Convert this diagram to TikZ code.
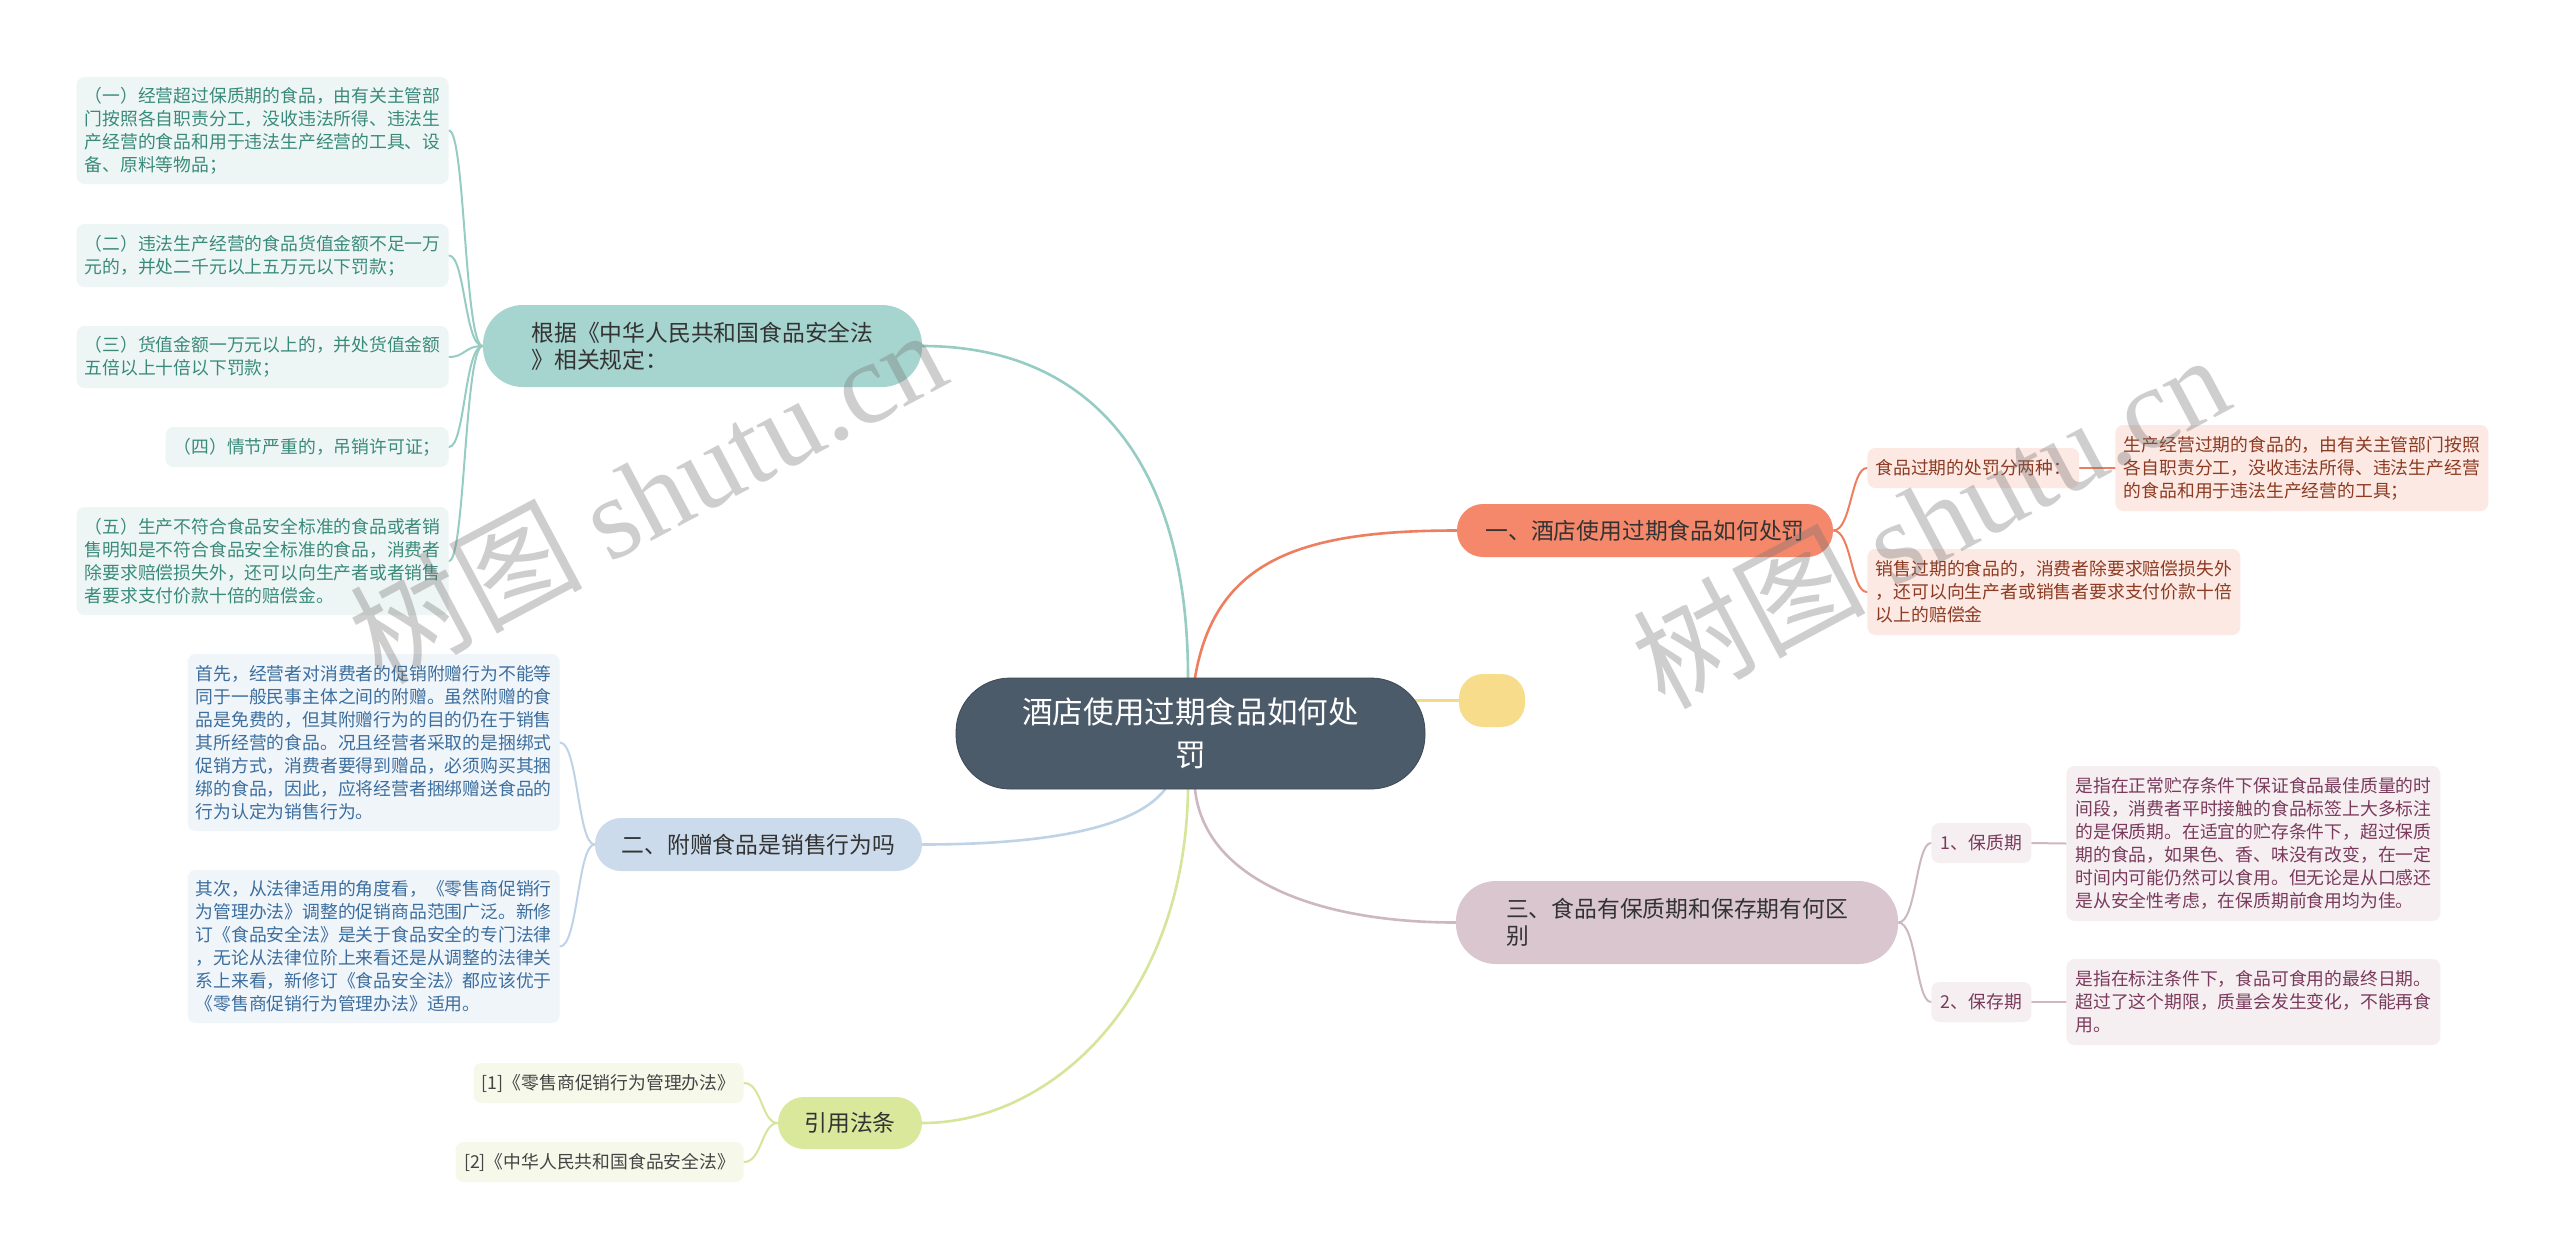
\documentclass[tikz,border=0pt]{standalone}
\usepackage{fontspec}
\setmainfont{Noto Sans CJK SC}
\newfontfamily\wmlatin{Liberation Serif}
\usetikzlibrary{backgrounds}

\definecolor{rootc}{HTML}{4B5B6A}
\definecolor{topictxt}{HTML}{333333}
\definecolor{tealc}{HTML}{A6D4CF}
\definecolor{tealleaf}{HTML}{EEF6F5}
\definecolor{tealtxt}{HTML}{3A8A7C}
\definecolor{tealln}{HTML}{96CCC3}
\definecolor{orangec}{HTML}{F5876A}
\definecolor{orangeleaf}{HTML}{FDE9E3}
\definecolor{orangetxt}{HTML}{8C3B22}
\definecolor{orangeln}{HTML}{EE7F5E}
\definecolor{bluec}{HTML}{CBDBEB}
\definecolor{blueleaf}{HTML}{F0F5FA}
\definecolor{bluetxt}{HTML}{3C6E9E}
\definecolor{blueln}{HTML}{BFD3E6}
\definecolor{greenc}{HTML}{DAE89C}
\definecolor{greenleaf}{HTML}{F6F8EA}
\definecolor{greentxt}{HTML}{444444}
\definecolor{greenln}{HTML}{D5E59A}
\definecolor{mauvec}{HTML}{D9C6CE}
\definecolor{mauveleaf}{HTML}{F6EFF2}
\definecolor{mauvetxt}{HTML}{7A3A5C}
\definecolor{mauveln}{HTML}{CDB7C1}
\definecolor{yellowc}{HTML}{F6DC8B}
\definecolor{yellowln}{HTML}{F3D98A}

\newcommand{\leaffont}{\fontsize{8.9}{11.5}\selectfont}
\newcommand{\topicfont}{\fontsize{11.4}{13.5}\selectfont}

\begin{document}
\begin{tikzpicture}[
  x=0.5pt, y=-0.5pt,
  root/.style={draw=rootc!80!black, fill=rootc, text=white, font=\fontsize{15.3}{21.5}\selectfont,
    align=center, rounded corners=27pt, minimum width=234.5pt, minimum height=55.5pt, inner sep=0pt},
  topic/.style={rounded corners=13pt, font=\topicfont, text=topictxt, align=left, inner sep=0pt,
    minimum height=26.5pt},
  leaf/.style={rounded corners=4pt, font=\leaffont, align=left, inner xsep=4pt, inner ysep=0pt,
    minimum height=20pt},
  tleaf/.style={leaf, fill=tealleaf, text=tealtxt, minimum width=186pt, anchor=east},
  bleaf/.style={leaf, fill=blueleaf, text=bluetxt, minimum width=186pt, anchor=east},
  gleaf/.style={leaf, fill=greenleaf, text=greentxt, anchor=east},
  oleaf/.style={leaf, fill=orangeleaf, text=orangetxt, anchor=west},
  mleaf/.style={leaf, fill=mauveleaf, text=mauvetxt, anchor=west},
  link/.style={line width=1.3pt, line cap=round},
  twig/.style={line width=1pt, line cap=round},
  wmark/.style={text=black!55, opacity=0.35, font=\fontsize{58}{60}\selectfont, inner sep=0pt},
]
  \useasboundingbox (0,0) rectangle (2560,1259);

  \node[root] (root) at (1190.5,733.5) {酒店使用过期食品如何处\\罚};
  \node[topic, fill=yellowc, minimum width=33pt, rounded corners=12pt] (yel) at (1492,700.5) {};

  % left side
  \node[topic, fill=tealc, minimum width=219.5pt, minimum height=41pt, rounded corners=20pt] (law) at (702.5,346)
    {根据《中华人民共和国食品安全法\\》相关规定：};
  \node[tleaf, minimum height=53.5pt] (law1) at (449,130.5)
    {（一）经营超过保质期的食品，由有关主管部\\门按照各自职责分工，没收违法所得、违法生\\产经营的食品和用于违法生产经营的工具、设\\备、原料等物品；};
  \node[tleaf, minimum height=31.5pt] (law2) at (449,255.5)
    {（二）违法生产经营的食品货值金额不足一万\\元的，并处二千元以上五万元以下罚款；};
  \node[tleaf, minimum height=31pt] (law3) at (449,357)
    {（三）货值金额一万元以上的，并处货值金额\\五倍以上十倍以下罚款；};
  \node[tleaf, minimum width=0pt] (law4) at (449,447) {（四）情节严重的，吊销许可证；};
  \node[tleaf, minimum height=54pt] (law5) at (449,561)
    {（五）生产不符合食品安全标准的食品或者销\\售明知是不符合食品安全标准的食品，消费者\\除要求赔偿损失外，还可以向生产者或者销售\\者要求支付价款十倍的赔偿金。};

  \node[topic, fill=bluec, minimum width=163.5pt] (gift) at (758.5,844.5) {二、附赠食品是销售行为吗};
  \node[bleaf, minimum height=88.5pt] (gift1) at (560,742.5)
    {首先，经营者对消费者的促销附赠行为不能等\\同于一般民事主体之间的附赠。虽然附赠的食\\品是免费的，但其附赠行为的目的仍在于销售\\其所经营的食品。况且经营者采取的是捆绑式\\促销方式，消费者要得到赠品，必须购买其捆\\绑的食品，因此，应将经营者捆绑赠送食品的\\行为认定为销售行为。};
  \node[bleaf, minimum height=76.5pt] (gift2) at (560,946.5)
    {其次，从法律适用的角度看，《零售商促销行\\为管理办法》调整的促销商品范围广泛。新修\\订《食品安全法》是关于食品安全的专门法律\\，无论从法律位阶上来看还是从调整的法律关\\系上来看，新修订《食品安全法》都应该优于\\《零售商促销行为管理办法》适用。};

  \node[topic, fill=greenc, minimum width=72pt, minimum height=26pt] (cite) at (850,1123) {引用法条};
  \node[gleaf, minimum width=135pt] (cite1) at (744,1083) {[1]《零售商促销行为管理办法》};
  \node[gleaf, minimum width=144pt] (cite2) at (744,1162) {[2]《中华人民共和国食品安全法》};

  % right side
  \node[topic, fill=orangec, minimum width=188pt] (fine) at (1645,530.5) {一、酒店使用过期食品如何处罚};
  \node[oleaf] (fine1) at (1867,468) {食品过期的处罚分两种：};
  \node[oleaf, minimum width=186.5pt, minimum height=43pt] (fine1a) at (2115,468)
    {生产经营过期的食品的，由有关主管部门按照\\各自职责分工，没收违法所得、违法生产经营\\的食品和用于违法生产经营的工具；};
  \node[oleaf, minimum width=186.5pt, minimum height=43pt] (fine2) at (1867,592)
    {销售过期的食品的，消费者除要求赔偿损失外\\，还可以向生产者或销售者要求支付价款十倍\\以上的赔偿金};

  \node[topic, fill=mauvec, minimum width=221pt, minimum height=41.5pt, rounded corners=20pt] (term) at (1677,922.5)
    {三、食品有保质期和保存期有何区\\别};
  \node[mleaf, minimum width=50pt] (term1) at (1931,843) {1、保质期};
  \node[mleaf, minimum width=187pt, minimum height=77.5pt] (term1a) at (2066,843.5)
    {是指在正常贮存条件下保证食品最佳质量的时\\间段，消费者平时接触的食品标签上大多标注\\的是保质期。在适宜的贮存条件下，超过保质\\期的食品，如果色、香、味没有改变，在一定\\时间内可能仍然可以食用。但无论是从口感还\\是从安全性考虑，在保质期前食用均为佳。};
  \node[mleaf, minimum width=50pt] (term2) at (1931,1002) {2、保存期};
  \node[mleaf, minimum width=187pt, minimum height=43pt] (term2a) at (2066,1002)
    {是指在标注条件下，食品可食用的最终日期。\\超过了这个期限，质量会发生变化，不能再食\\用。};

  \begin{scope}[on background layer]
    \fill[white] (0,0) rectangle (2560,1259);
    % main branches leave the root
    \draw[link, tealln] ([xshift=-1.25pt]root.north) .. controls +(0,-228) and +(158,0) .. (law.east);
    \draw[link, orangeln] ([xshift=2.25pt]root.north) .. controls +(20,-118) and +(-156,0) .. (fine.west);
    \draw[link, blueln] ([xshift=-12.75pt]root.south) .. controls +(-35,45) and +(98,0) .. (gift.east);
    \draw[link, greenln] ([xshift=-1.25pt]root.south) .. controls +(-3,211) and +(128,0) .. (cite.east);
    \draw[link, mauveln] ([xshift=2.25pt]root.south) .. controls +(10,91) and +(-137,0) .. (term.west);
    \draw[link, yellowln] (root.center |- yel.west) -- (yel.west);

    % brackets to the leaves
    \foreach \c in {law1,law2,law3,law4,law5}
      \draw[twig, tealln] (law.west) .. controls +(-18,0) and +(16,0) .. (\c.east);
    \foreach \c in {gift1,gift2}
      \draw[twig, blueln] (gift.west) .. controls +(-17,0) and +(18,0) .. (\c.east);
    \foreach \c in {cite1,cite2}
      \draw[twig, greenln] (cite.west) .. controls +(-16,0) and +(18,0) .. (\c.east);
    \foreach \c in {fine1,fine2}
      \draw[twig, orangeln] (fine.east) .. controls +(18,0) and +(-16,0) .. (\c.west);
    \foreach \c in {term1,term2}
      \draw[twig, mauveln] (term.east) .. controls +(18,0) and +(-15,0) .. (\c.west);
    \draw[link, orangeln] (fine1.east) -- (fine1a.west);
    \draw[twig, mauveln] (term1.east) -- (term1a.west);
    \draw[twig, mauveln] (term2.east) -- (term2a.west);
  \end{scope}

  % site watermark
  \node[wmark, rotate=28] (wm1) at (647,494) {树图 {\wmlatin shutu.cn}};
  \node[wmark, rotate=28] (wm2) at (1930,519) {树图 {\wmlatin shutu.cn}};
\end{tikzpicture}
\end{document}
